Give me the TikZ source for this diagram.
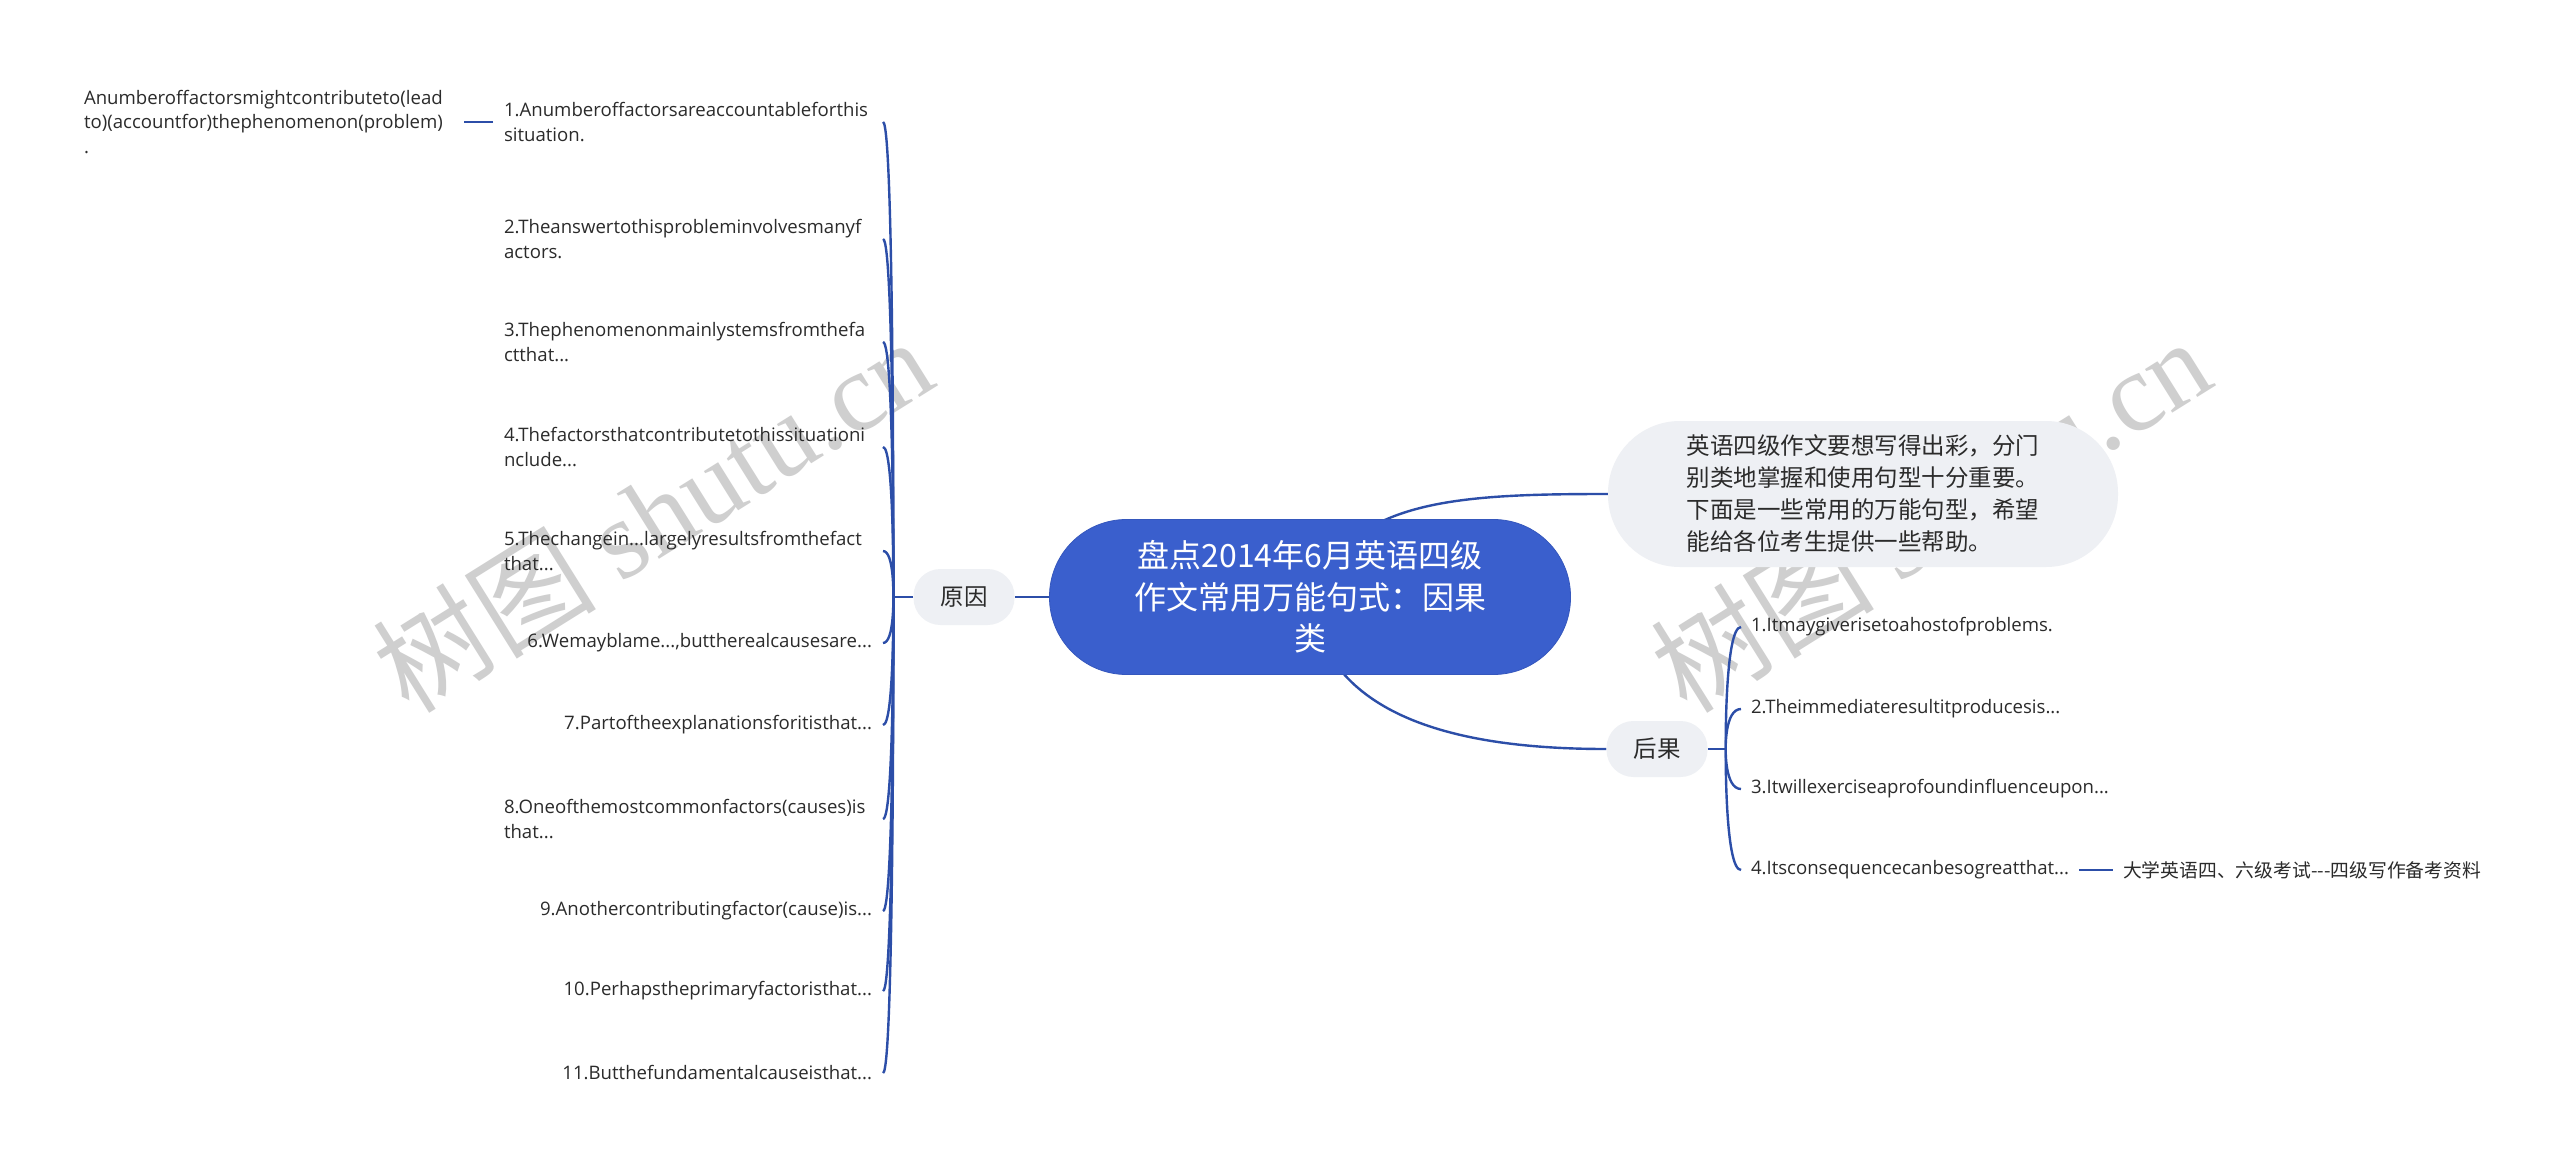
\documentclass[tikz,border=0pt]{standalone}
\usepackage{fontspec}
\setmainfont{Open Sans}
\newfontfamily\cjk{Noto Sans CJK SC}
\newfontfamily\wmserif{Liberation Serif}
\usetikzlibrary{calc}
\pgfdeclarelayer{bg}
\pgfsetlayers{bg,main}
\definecolor{linec}{HTML}{2C4EA8}
\definecolor{mainc}{HTML}{3A5FCD}
\definecolor{grayc}{HTML}{EEF0F4}
\definecolor{txtc}{HTML}{2B2B2B}
\definecolor{wmc}{HTML}{CFCFCF}
\hyphenpenalty=10000
\exhyphenpenalty=10000
\lefthyphenmin=62
\begin{document}
\begin{tikzpicture}[x=1pt,y=-1pt,
  conn/.style={draw=linec, line width=2.4pt},
  rootbox/.style={fill=mainc, draw=mainc!92!black, line width=0.8pt, rounded corners=77pt, minimum width=521pt, minimum height=155pt, text=white, align=center, font=\cjk\fontsize{32}{41.5}\selectfont, inner sep=0pt},
  descbox/.style={fill=grayc, rounded corners=72pt, minimum width=510pt, minimum height=146pt, text=txtc, align=left, font=\cjk\fontsize{23.5}{32}\selectfont, inner sep=0pt},
  catbox/.style={fill=grayc, rounded corners=27pt, minimum width=101pt, minimum height=56pt, text=txtc, font=\cjk\fontsize{23.5}{28}\selectfont, inner sep=0pt},
  leaf/.style={text=txtc, font=\fontsize{18.6}{24.5}\selectfont, inner sep=0pt, outer xsep=11pt, align=left},
  leafL/.style={leaf, anchor=east},
  leafLw/.style={leafL, text width=368pt},
  leafR/.style={leaf, anchor=west, outer xsep=10pt},
  wm/.style={text=wmc, rotate=32, inner sep=0pt, font=\fontsize{112}{112}\selectfont}
]
\useasboundingbox (0,0) rectangle (2560,1172);

% central and category nodes
\node[rootbox] (root) at (1310,597) {盘点2014年6月英语四级\\作文常用万能句式：因果\\类};
\node[descbox] (desc) at (1863,494) {英语四级作文要想写得出彩，分门\\别类地掌握和使用句型十分重要。\\下面是一些常用的万能句型，希望\\能给各位考生提供一些帮助。};
\node[catbox] (yy) at (964,597) {原因};
\node[catbox] (hg) at (1657,749) {后果};

% left leaves
\node[leafLw] (l1) at (883,122) {1.Anumberoffactorsareaccountableforthis\\situation.};
\node[leafLw] (l2) at (883,239) {2.Theanswertothisprobleminvolvesmanyf\\actors.};
\node[leafLw] (l3) at (883,342) {3.Thephenomenonmainlystemsfromthefa\\ctthat...};
\node[leafLw] (l4) at (883,447) {4.Thefactorsthatcontributetothissituationi\\nclude...};
\node[leafLw] (l5) at (883,551) {5.Thechangein...largelyresultsfromthefact\\that...};
\node[leafL] (l6) at (883,643) {6.Wemayblame...,buttherealcausesare...};
\node[leafL] (l7) at (883,725) {7.Partoftheexplanationsforitisthat...};
\node[leafLw] (l8) at (883,819) {8.Oneofthemostcommonfactors(causes)is\\that...};
\node[leafL] (l9) at (883,911) {9.Anothercontributingfactor(cause)is...};
\node[leafL] (l10) at (883,991) {10.Perhapstheprimaryfactoristhat...};
\node[leafL] (l11) at (883,1073) {11.Butthefundamentalcauseisthat...};
\node[leafLw, outer xsep=12pt] (l1a) at (464,122) {Anumberoffactorsmightcontributeto(lead\\to)(accountfor)thephenomenon(problem)\\.};

% right leaves
\node[leafR] (r1) at (1741,627) {1.Itmaygiverisetoahostofproblems.};
\node[leafR] (r2) at (1741,709) {2.Theimmediateresultitproducesis...};
\node[leafR] (r3) at (1741,789) {3.Itwillexerciseaprofoundinfluenceupon...};
\node[leafR] (r4) at (1741,870) {4.Itsconsequencecanbesogreatthat...};
\node[leafR, font=\cjk\fontsize{18.8}{24}\selectfont] (r4a) at ($(r4.east)+(34,0)$) {大学英语四、六级考试---四级写作备考资料};

\begin{pgfonlayer}{bg}
  \fill[white] (0,0) rectangle (2560,1172);
  % watermarks
  \node[wm] (wm1) at (652,514) {\cjk 树图 \wmserif shutu.cn};
  \node[wm] (wm2) at (1930,514) {\cjk 树图 \wmserif shutu.cn};

  \draw[conn] (root.center) -- (yy.east);
  \draw[conn] (root.center) .. controls ($(root.center)+(40,-97)$) and ($(desc.west)+(-155,0)$) .. (desc.west);
  \draw[conn] (root.center) .. controls ($(root.center)+(15,120)$) and ($(hg.west)+(-150,0)$) .. (hg.west);

  \coordinate (lt) at ($(yy.west)+(-20,0)$);
  \draw[conn] (yy.west) -- (lt);
  \foreach \c in {l1,l2,l3,l4,l5,l6,l7,l8,l9,l10,l11}{
    \draw[conn] (lt) .. controls (lt) and ($(lt |- \c.east)+(1,0)$) .. (\c.east);
  }
  \draw[conn] (l1.west) -- (l1a.east);

  \coordinate (rt) at ($(hg.east)+(18,0)$);
  \draw[conn] (hg.east) -- (rt);
  \foreach \c in {r1,r2,r3,r4}{
    \draw[conn] (rt) .. controls (rt) and ($(rt |- \c.west)+(-1,0)$) .. (\c.west);
  }
  \draw[conn] (r4.east) -- (r4a.west);
\end{pgfonlayer}
\end{tikzpicture}
\end{document}
